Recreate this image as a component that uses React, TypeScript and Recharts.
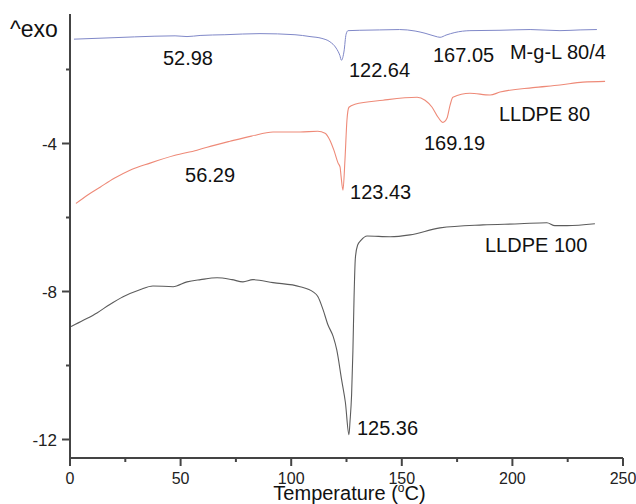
import React from "react";
import {
	ComposedChart,
	Line,
	Scatter,
	XAxis,
	YAxis,
	Label,
} from "recharts";

// DSC traces: [temperature °C, heat flow]
const mglTemp = [1.8, 19.9, 38.4, 47.5, 52.9, 58.8, 70, 85.9, 101.7, 108.5, 113.9, 117.5, 120.3, 122, 122.7, 123.9, 124.8, 125.7, 131, 140, 149, 156, 160.5, 165, 167.3, 170, 174, 180.8, 194.4, 208, 221.5, 230.6, 238.2];
const mglFlow = [-1.18, -1.14, -1.1, -1.09, -1.11, -1.08, -1.06, -1.03, -1.06, -1.11, -1.16, -1.25, -1.42, -1.62, -1.75, -1.5, -1.05, -0.95, -0.94, -0.93, -0.92, -0.96, -1.02, -1.1, -1.13, -1.07, -1.0, -0.95, -0.94, -0.92, -0.95, -0.93, -0.92];

const l80Temp = [2.7, 8, 13.6, 20, 27.1, 36.2, 47.5, 57.4, 62, 72.3, 82, 91.8, 104, 112, 115.3, 117.5, 119.3, 121.2, 122.1, 122.5, 123.4, 124.3, 125.2, 126.1, 128.8, 141.5, 156.9, 160.5, 163.7, 166.4, 168.6, 170.4, 171.8, 173.1, 180.8, 189.9, 194.4, 209.3, 221.5, 231.9, 241.9];
const l80Flow = [-5.62, -5.39, -5.18, -4.94, -4.72, -4.53, -4.32, -4.18, -4.1, -3.94, -3.8, -3.69, -3.69, -3.67, -3.72, -3.91, -4.18, -4.53, -4.64, -4.86, -5.26, -4.45, -3.37, -3.02, -2.94, -2.83, -2.75, -2.83, -3.02, -3.29, -3.43, -3.32, -2.97, -2.75, -2.64, -2.69, -2.61, -2.49, -2.42, -2.34, -2.32];

const l100Temp = [0.5, 6, 12.2, 18, 24, 31.6, 37.5, 46.6, 52.9, 59, 66.5, 73.2, 78.2, 82.7, 91.8, 104, 109.9, 112.1, 114.4, 116.6, 119, 120.6, 122.8, 124.5, 126.1, 126.6, 127.3, 127.9, 128.4, 129, 130, 131.5, 134.3, 144.7, 153.7, 167.3, 186.7, 203.4, 215.6, 219.2, 224.7, 237.3];
const l100Flow = [-8.95, -8.78, -8.58, -8.35, -8.14, -7.95, -7.85, -7.87, -7.74, -7.68, -7.63, -7.68, -7.74, -7.68, -7.76, -7.87, -8.01, -8.14, -8.49, -8.9, -9.22, -9.58, -10.39, -11.0, -11.87, -11.5, -10.8, -9.6, -8.2, -7.1, -6.75, -6.62, -6.5, -6.52, -6.47, -6.28, -6.2, -6.17, -6.14, -6.22, -6.22, -6.17];

// annotation text anchors (left edge / baseline) in data units
const noteText = ["52.98", "122.64", "167.05", "M-g-L 80/4", "LLDPE 80", "169.19", "56.29", "123.43", "LLDPE 100", "125.36"];
const noteTemp = [42.0, 126.1, 164.1, 198.9, 193.9, 160.0, 52.0, 126.6, 187.6, 129.7];
const noteFlow = [-1.88, -2.21, -1.8, -1.72, -3.4, -4.18, -5.05, -5.51, -6.94, -11.88];

const xTicks = [0, 25, 50, 75, 100, 125, 150, 175, 200, 225, 250];
const yTicks = [-12, -10, -8, -6, -4, -2];

const toPoints = (xs: number[], ys: number[]) => xs.map((x, i) => ({ x, y: ys[i] }));

const mglData = toPoints(mglTemp, mglFlow);
const l80Data = toPoints(l80Temp, l80Flow);
const l100Data = toPoints(l100Temp, l100Flow);
const notes = noteText.map((text, i) => ({ text, x: noteTemp[i], y: noteFlow[i] }));

const AXIS = "#444";
const FONT = "'Liberation Sans', Arial, sans-serif";

function XTick({ x, y, payload }: any) {
	const major = payload.value % 50 === 0;
	return (
		<g>
			<line x1={x} y1={y} x2={x} y2={y + (major ? 8 : 4)} stroke={AXIS} strokeWidth={2} />
			{major && (
				<text x={x} y={y + 26} textAnchor="middle" fontSize={16} fill="#222" fontFamily={FONT}>
					{payload.value}
				</text>
			)}
		</g>
	);
}

function YTick({ x, y, payload }: any) {
	const major = payload.value % 4 === 0;
	return (
		<g>
			<line x1={x - (major ? 8 : 4)} y1={y} x2={x} y2={y} stroke={AXIS} strokeWidth={2} />
			{major && (
				<text x={x - 13} y={y + 6} textAnchor="end" fontSize={17} fill="#222" fontFamily={FONT}>
					{payload.value}
				</text>
			)}
		</g>
	);
}

function ExoLabel({ viewBox }: any) {
	const vx = viewBox?.x ?? 0;
	const vy = viewBox?.y ?? 14;
	return (
		<text x={vx + 10} y={vy + 23} fontSize={23} fill="#111" fontFamily={FONT}>
			^exo
		</text>
	);
}

function TempLabel({ viewBox }: any) {
	const cx = (viewBox?.x ?? 70) + (viewBox?.width ?? 553) / 2 + 3;
	const vy = viewBox?.y ?? 458;
	return (
		<text x={cx} y={vy + 42} textAnchor="middle" fontSize={20} fill="#111" fontFamily={FONT}>
			Temperature (<tspan dy={-8} fontSize={12}>o</tspan>
			<tspan dy={8}>C)</tspan>
		</text>
	);
}

function NoteShape({ cx, cy, payload }: any) {
	return (
		<text x={cx} y={cy} fontSize={20} fill="#111" fontFamily={FONT}>
			{payload.text}
		</text>
	);
}

export default function App() {
	return (
		<div style={{ position: "absolute", left: 0, top: 0, background: "#fff" }}>
			<ComposedChart width={636} height={504} margin={{ top: 14, right: 13, bottom: 0, left: 0 }}>
				<XAxis
					type="number"
					dataKey="x"
					domain={[0, 250]}
					ticks={xTicks}
					tick={<XTick />}
					tickSize={0}
					tickMargin={0}
					height={46}
					axisLine={{ stroke: AXIS, strokeWidth: 2 }}
					allowDataOverflow
				>
					<Label content={<TempLabel />} />
				</XAxis>
				<YAxis
					type="number"
					domain={[-12.5, -0.5]}
					ticks={yTicks}
					tick={<YTick />}
					tickSize={0}
					tickMargin={0}
					width={70}
					axisLine={{ stroke: AXIS, strokeWidth: 2 }}
					allowDataOverflow
				>
					<Label content={<ExoLabel />} />
				</YAxis>
				<Line data={mglData} dataKey="y" type="monotone" stroke="#8088c8" strokeWidth={1} dot={false} isAnimationActive={false} />
				<Line data={l80Data} dataKey="y" type="monotone" stroke="#ee8a78" strokeWidth={1.1} dot={false} isAnimationActive={false} />
				<Line data={l100Data} dataKey="y" type="monotone" stroke="#5c5c5c" strokeWidth={1.1} dot={false} isAnimationActive={false} />
				<Scatter data={notes} dataKey="y" shape={<NoteShape />} isAnimationActive={false} />
			</ComposedChart>
		</div>
	);
}
